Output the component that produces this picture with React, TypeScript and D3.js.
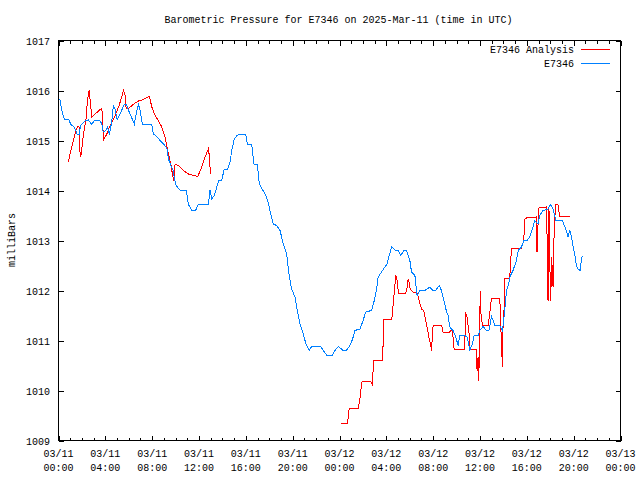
import React from "react";
import * as d3 from "d3";

// hours since 2025-03-11 00:00 UTC
const observedHours = [0.1,0.32,0.49,0.85,1.06,1.34,1.51,1.6,1.77,1.88,2.28,2.56,2.85,3.07,3.5,3.7,3.81,4.04,4.18,4.35,4.56,4.69,4.84,5.01,5.29,5.61,5.8,5.97,6.26,6.48,6.63,6.83,6.97,7.17,7.97,8.11,8.4,8.68,9.02,9.25,9.39,9.59,9.76,9.96,10.04,10.38,10.89,11.01,11.09,11.38,11.72,11.95,12.8,12.94,13.09,13.31,13.52,13.69,13.94,14.08,14.14,14.42,14.65,14.8,14.99,15.22,15.44,15.99,16.13,16.5,16.7,16.98,17.15,17.35,17.64,17.87,18.06,18.34,18.63,18.92,19.2,19.49,19.68,19.91,20.2,20.39,20.62,20.82,20.96,21.19,21.42,21.62,22.41,22.61,22.9,23.41,23.61,23.89,24.27,24.61,24.89,25.12,25.32,25.74,26.02,26.23,26.74,26.94,27.17,27.3,27.59,27.88,28.07,28.24,28.47,28.73,29.01,29.24,29.5,29.73,30.01,30.15,30.44,30.63,30.86,31.29,31.71,31.93,32.23,32.51,32.71,33.0,33.14,33.28,33.42,33.57,33.7,33.93,34.13,34.27,34.7,34.9,35.13,35.36,35.49,35.84,35.98,36.26,36.55,36.77,36.98,37.11,37.26,37.69,37.92,38.11,38.26,38.4,38.6,38.82,39.11,39.28,39.54,39.74,40.02,40.25,40.53,40.67,40.96,41.1,41.38,41.81,42.01,42.24,42.47,43.04,43.23,43.38,43.52,43.66,43.81,43.94,44.09,44.23,44.37,44.57,44.66,44.75];
const observedValues = [1015.84,1015.56,1015.43,1015.43,1015.32,1015.27,1015.19,1015.12,1015.12,1015.3,1015.39,1015.41,1015.32,1015.41,1015.41,1015.33,1015.17,1015.2,1015.27,1015.12,1015.4,1015.7,1015.63,1015.41,1015.55,1015.72,1015.72,1015.61,1015.45,1015.33,1015.53,1015.72,1015.6,1015.32,1015.31,1015.13,1015.08,1015.0,1014.92,1014.85,1014.63,1014.5,1014.43,1014.17,1014.1,1014.01,1014.01,1013.87,1013.72,1013.61,1013.61,1013.72,1013.72,1014.01,1013.83,1013.9,1014.07,1014.21,1014.21,1014.35,1014.41,1014.42,1014.57,1014.8,1015.01,1015.1,1015.12,1015.12,1014.93,1014.92,1014.53,1014.52,1014.13,1014.05,1013.93,1013.8,1013.6,1013.33,1013.3,1013.2,1012.93,1012.73,1012.33,1012.03,1011.87,1011.6,1011.33,1011.2,1011.07,1010.9,1010.81,1010.88,1010.88,1010.8,1010.71,1010.71,1010.8,1010.88,1010.81,1010.81,1010.9,1011.03,1011.2,1011.23,1011.4,1011.57,1011.6,1011.77,1012.03,1012.27,1012.37,1012.47,1012.53,1012.7,1012.88,1012.81,1012.8,1012.7,1012.8,1012.79,1012.6,1012.37,1012.3,1011.9,1012.0,1012.0,1012.07,1012.01,1012.01,1012.1,1012.0,1011.73,1011.57,1011.5,1011.27,1011.23,1011.2,1011.07,1010.9,1011.1,1011.1,1011.07,1010.81,1010.93,1011.1,1011.1,1011.2,1011.28,1011.2,1011.2,1011.48,1011.41,1011.3,1011.3,1011.2,1011.6,1012.0,1012.1,1012.3,1012.4,1012.6,1012.81,1012.87,1013.0,1013.0,1013.07,1013.27,1013.4,1013.33,1013.5,1013.6,1013.63,1013.72,1013.63,1013.41,1013.41,1013.28,1013.2,1013.07,1013.21,1013.07,1012.9,1012.73,1012.5,1012.43,1012.4,1012.63,1012.7];

const analysisHoursA = [0.85,1.08,1.28,1.48,1.66,1.77,1.85,1.94,2.13,2.34,2.47,2.62,2.7,2.85,3.7,3.75,3.84,4.13,4.41,4.84,5.18,5.55,5.69,5.78,6.03,6.54,6.83,7.25,7.76,7.97,8.25,8.53,8.82,9.1,9.25,9.39,9.59,9.73,9.85,9.96,10.24,10.67,11.09,11.52,11.89,12.24,12.52,12.8,12.88,12.94,13.0];
const analysisValuesA = [1014.58,1014.83,1015.0,1015.2,1015.28,1015.27,1014.67,1014.73,1015.13,1015.4,1015.8,1016.01,1015.8,1015.47,1015.65,1015.47,1015.01,1015.13,1015.3,1015.5,1015.7,1016.0,1015.9,1015.63,1015.65,1015.75,1015.79,1015.82,1015.88,1015.67,1015.5,1015.4,1015.27,1015.07,1014.9,1014.73,1014.53,1014.33,1014.19,1014.53,1014.5,1014.4,1014.33,1014.3,1014.28,1014.47,1014.67,1014.83,1014.7,1014.47,1014.33];

const analysisHoursB = [24.12,24.69,24.83,25.6,25.74,25.91,26.17,26.66,26.79,26.94,27.68,27.79,28.47,28.64,28.81,28.92,29.04,29.67,29.78,29.86,29.95,30.03,30.29,30.63,30.8,31.01,31.2,31.37,31.48,31.66,31.8,31.86,31.95,32.0,32.71,32.85,33.42,33.57,33.7,33.79,34.7,34.76,34.9,34.98,35.07,35.13,35.7,35.75,35.84,35.9,35.98,36.04,36.09,36.21,36.69,36.83,36.98,37.69,37.83,37.92,37.97,38.03,38.11,38.54,38.69,39.54,39.74,39.82,39.97,40.82,40.87,40.96,41.04,41.67,41.76,41.81,41.89,41.95,42.04,42.12,42.24,42.32,42.38,42.47,42.66,42.81,43.72];
const analysisValuesB = [1009.35,1009.35,1009.65,1009.65,1009.83,1010.17,1010.19,1010.19,1010.13,1010.61,1010.61,1011.43,1011.43,1011.87,1012.3,1012.2,1011.95,1011.95,1012.07,1012.23,1012.17,1012.03,1011.97,1011.95,1011.8,1011.63,1011.6,1011.4,1011.27,1011.03,1010.9,1010.8,1011.17,1011.31,1011.31,1011.17,1011.17,1011.23,1011.07,1010.83,1010.83,1011.57,1011.47,1011.3,1011.13,1010.83,1010.83,1010.4,1010.67,1010.2,1011.53,1011.99,1011.5,1011.3,1011.3,1011.53,1011.85,1011.85,1010.93,1010.47,1011.33,1011.37,1012.25,1012.25,1012.85,1012.85,1013.0,1013.43,1013.45,1013.47,1012.77,1013.33,1013.65,1013.67,1012.77,1011.8,1013.67,1012.67,1011.8,1012.67,1012.07,1013.03,1013.41,1013.72,1013.72,1013.48,1013.48];

const xTickHours = [0,4,8,12,16,20,24,28,32,36,40,44,48];
const xTickDates = ["03/11","03/11","03/11","03/11","03/11","03/11","03/12","03/12","03/12","03/12","03/12","03/12","03/13"];
const xTickTimes = ["00:00","04:00","08:00","12:00","16:00","20:00","00:00","04:00","08:00","12:00","16:00","20:00","00:00"];
const yTicks = [1009,1010,1011,1012,1013,1014,1015,1016,1017];

const seriesNames = ["E7346 Analysis", "E7346"];
const seriesColors = ["#ff0000", "#0080ff"];

const W = 640, H = 480;
const L = 58.5, R = 620.5, T = 40.5, B = 440.5;
const FONT = "'Liberation Mono', 'DejaVu Sans Mono', monospace";

export default function App() {
  const x = d3.scaleLinear().domain([0, 48]).range([L, R]);
  const y = d3.scaleLinear().domain([1009, 1017]).range([B, T]);
  const line = d3.line<[number, number]>().x(d => x(d[0])).y(d => y(d[1]));
  const zip = (a: number[], b: number[]) => a.map((v, i) => [v, b[i]] as [number, number]);
  const minorHours = d3.range(0, 49, 1).filter(h => h % 4 !== 0);
  const px = (v: number) => Math.round(v) + 0.5;

  return (
    <svg width={W} height={H} style={{ position: "absolute", left: 0, top: 0, background: "#fff" }} fontFamily={FONT} fontSize={10}>
      <rect x={0} y={0} width={W} height={H} fill="#fff" />
      <text x={338.5} y={23} textAnchor="middle">Barometric Pressure for E7346 on 2025-Mar-11 (time in UTC)</text>
      <text transform={`translate(15,240) rotate(-90)`} textAnchor="middle">milliBars</text>
      <g stroke="#000" strokeWidth={1} shapeRendering="crispEdges">
        {yTicks.map(v => (
          <g key={v}>
            <line x1={L} x2={L + 5} y1={px(y(v))} y2={px(y(v))} />
            <line x1={R} x2={R - 5} y1={px(y(v))} y2={px(y(v))} />
          </g>
        ))}
        {xTickHours.map(h => (
          <g key={h}>
            <line x1={px(x(h))} x2={px(x(h))} y1={B} y2={B - 5} />
            <line x1={px(x(h))} x2={px(x(h))} y1={T} y2={T + 5} />
          </g>
        ))}
        {minorHours.map(h => (
          <g key={h}>
            <line x1={px(x(h))} x2={px(x(h))} y1={B} y2={B - 3} />
            <line x1={px(x(h))} x2={px(x(h))} y1={T} y2={T + 3} />
          </g>
        ))}
      </g>
      {yTicks.map(v => (
        <text key={v} x={50} y={y(v) + 4} textAnchor="end">{v}</text>
      ))}
      {xTickHours.map((h, i) => (
        <g key={h}>
          <text x={x(h)} y={457} textAnchor="middle">{xTickDates[i]}</text>
          <text x={x(h)} y={471} textAnchor="middle">{xTickTimes[i]}</text>
        </g>
      ))}
      <g fill="none" strokeWidth={1} shapeRendering="crispEdges">
        <path d={line(zip(analysisHoursA, analysisValuesA)) || ""} stroke={seriesColors[0]} />
        <path d={line(zip(analysisHoursB, analysisValuesB)) || ""} stroke={seriesColors[0]} />
        <path d={line(zip(observedHours, observedValues)) || ""} stroke={seriesColors[1]} />
      </g>
      {seriesNames.map((n, i) => (
        <g key={n}>
          <text x={574} y={53 + i * 14} textAnchor="end">{n}</text>
          <rect x={581} y={49 + i * 14} width={29} height={1} fill={seriesColors[i]} />
        </g>
      ))}
      <rect x={L} y={T} width={R - L} height={B - T} fill="none" stroke="#000" strokeWidth={1} shapeRendering="crispEdges" />
    </svg>
  );
}
